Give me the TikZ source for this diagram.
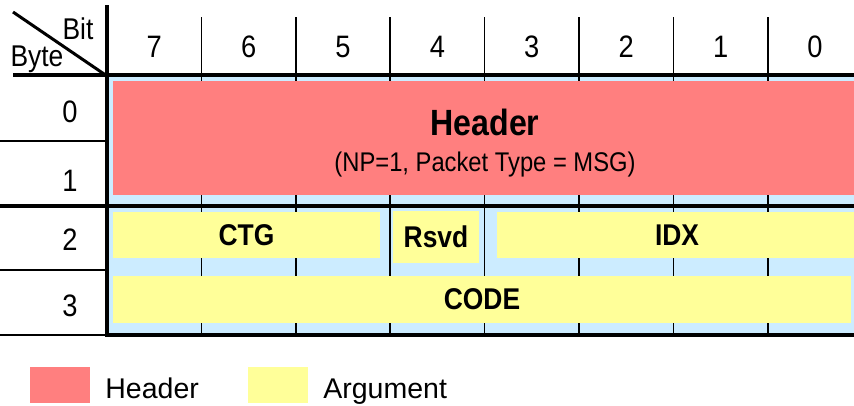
\documentclass[tikz,border=0pt]{standalone}
\usepackage{fontspec}
\setmainfont{Liberation Sans}
\newfontfamily\narrowfont[FakeStretch=0.88]{Liberation Sans}
\usetikzlibrary{positioning,calc}

\definecolor{hdrred}{HTML}{FF7F7F}
\definecolor{argyellow}{HTML}{FFFF99}
\definecolor{cellblue}{HTML}{CCECFF}

\begin{document}
\begin{tikzpicture}[
    x=1pt, y=-1pt,
    thickline/.style={line width=4pt},
    thinline/.style={line width=1.6pt},
    num/.style={inner sep=0pt, font=\narrowfont\fontsize{31}{33}\selectfont},
    field/.style={inner sep=0pt, outer sep=0pt, draw=none,
                  font=\narrowfont\bfseries\fontsize{30}{32}\selectfont},
    legbox/.style={inner sep=0pt, minimum width=60pt, minimum height=36pt},
    legtext/.style={inner sep=0pt, anchor=base west, font=\fontsize{28.5}{30}\selectfont},
  ]
  \useasboundingbox (0,0) rectangle (854,405);

  % body background
  \fill[cellblue] (107,75) rectangle (862,335);
  \foreach \k in {1,...,7} {
    \draw[thinline] ({107+94.4*\k},17) -- ({107+94.4*\k},75);
    \draw[thinline] ({107+94.4*\k},75) -- ({107+94.4*\k},335);
  }

  % fields
  \node[field, fill=hdrred, minimum width=744pt, minimum height=114pt] (hdr) at (485,138) {};
  \node[inner sep=0pt, anchor=base, font=\narrowfont\bfseries\fontsize{36.5}{38}\selectfont]
    (hdrtitle) at (485,135) {Header};
  \node[inner sep=0pt, anchor=base, font=\narrowfont\fontsize{27}{29}\selectfont]
    (hdrsub) at (485,171.5) {(NP=1, Packet Type = MSG)};
  \node[field, fill=argyellow, minimum width=267pt, minimum height=46pt] (ctg) at (246.5,235) {CTG};
  \node[field, fill=argyellow, minimum width=86pt, minimum height=52pt] (rsvd) at (436,237) {Rsvd};
  \node[field, fill=argyellow, minimum width=360pt, minimum height=46pt] (idx) at (677,235) {IDX};
  \node[field, fill=argyellow, minimum width=738pt, minimum height=47pt] (code) at (482,299.5) {CODE};

  % grid lines
  \draw[thickline] (13,75) -- (862,75);
  \draw[thickline] (0,206) -- (862,206);
  \draw[thickline] (107,335) -- (862,335);
  \draw[thinline] (0,141) -- (107,141);
  \draw[thinline] (0,270) -- (107,270);
  \draw[thinline] (0,335) -- (107,335);
  \draw[thickline] (107,5) -- (107,337);

  % corner
  \coordinate (diagtop) at (13,12);
  \coordinate (corner) at (107,76);
  \draw[line width=3pt] (diagtop) -- (corner);
  \node[num, font=\narrowfont\fontsize{30}{32}\selectfont] (bitlbl) at (78,29) {Bit};
  \node[num, font=\narrowfont\fontsize{30}{32}\selectfont] (bytelbl) at (37,59) {Byte};

  % bit and byte numbers
  \foreach \b [count=\i] in {7,6,...,0}
    \node[num] (bit\b) at ({107+94.4*(\i-0.5)},47) {\b};
  \foreach \r/\y in {0/111.5,1/181,2/240,3/306}
    \node[num] (byte\r) at (70,\y) {\r};

  % legend
  \node[legbox, fill=hdrred] (leghdr) at (60,385) {};
  \node[legtext, xshift=15pt, yshift=-13pt] (leghdrtext) at (leghdr.east) {Header};
  \node[legbox, fill=argyellow] (legarg) at (278,385) {};
  \node[legtext, xshift=15pt, yshift=-13pt] (legargtext) at (legarg.east) {Argument};
\end{tikzpicture}
\end{document}
